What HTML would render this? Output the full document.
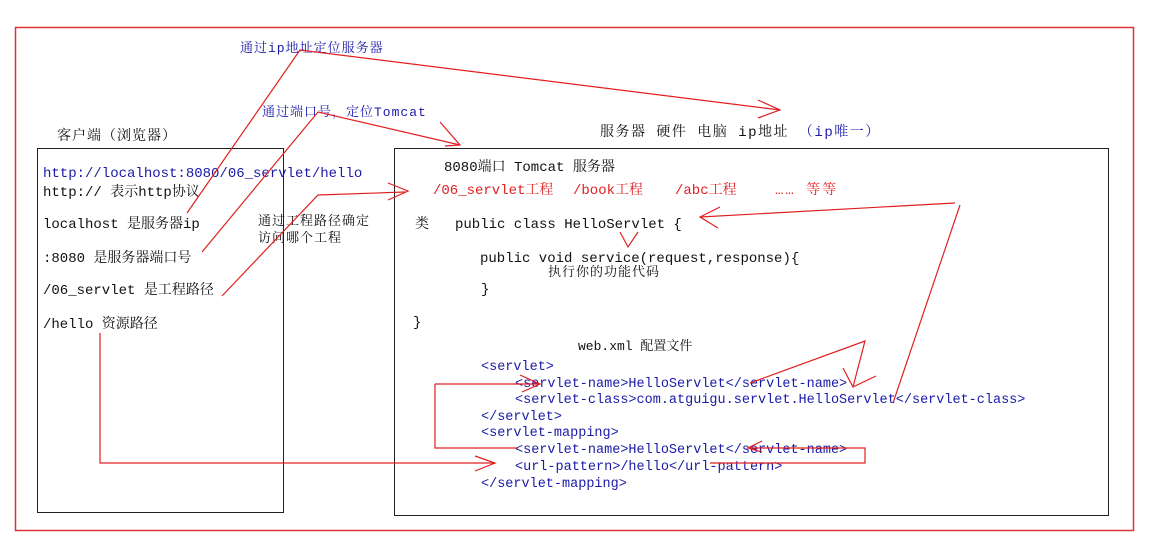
<!DOCTYPE html>
<html><head><meta charset="utf-8"><style>
body{margin:0;background:#fff}
svg text{font-family:"Liberation Mono","Noto Serif CJK SC",monospace;font-size:14px}
.b{fill:#1a1aa8}.r{fill:#e02020}.k{fill:#111}
.x{font-size:13.5px}
</style></head><body>
<svg width="1154" height="553" viewBox="0 0 1154 553" xmlns="http://www.w3.org/2000/svg">
<rect width="1154" height="553" fill="#fff"/>
<rect x="15.5" y="27.5" width="1118" height="503" fill="none" stroke="#d33" stroke-width="1.5"/>
<rect x="37.5" y="148.5" width="246" height="364" fill="none" stroke="#222"/>
<rect x="394.5" y="148.5" width="714" height="367" fill="none" stroke="#222"/>
<g>
<text x="240" y="52" class="b" style="font-size:13px;letter-spacing:1px">通过ip地址定位服务器</text>
<text x="262" y="116" class="b" style="font-size:13px;letter-spacing:1px">通过端口号，定位Tomcat</text>
<text x="57" y="140" class="k" style="letter-spacing:1px">客户端（浏览器）</text>
<text x="600" y="136" class="k" style="font-size:14px;letter-spacing:1.5px">服务器 硬件 电脑  ip地址 <tspan class="b">（ip唯一）</tspan></text>
<text x="43" y="177" class="b">http://localhost:8080/06_servlet/hello</text>
<text x="43" y="196" class="k">http:// 表示http协议</text>
<text x="43" y="228" class="k">localhost 是服务器ip</text>
<text x="43" y="262" class="k">:8080 是服务器端口号</text>
<text x="43" y="294" class="k">/06_servlet 是工程路径</text>
<text x="43" y="328" class="k">/hello  资源路径</text>
<text x="258" y="225" class="k" style="font-size:13px;letter-spacing:1px">通过工程路径确定</text>
<text x="258" y="242" class="k" style="font-size:13px;letter-spacing:1px">访问哪个工程</text>
<text x="444" y="171" class="k">8080端口 Tomcat 服务器</text>
<text x="433" y="194" class="r">/06_servlet工程</text>
<text x="573" y="194" class="r">/book工程</text>
<text x="675" y="194" class="r">/abc工程</text>
<text x="775" y="194" class="r" style="letter-spacing:2px">…… 等等</text>
<text x="415" y="228" class="k">类</text>
<text x="455" y="228" class="k">public class HelloServlet {</text>
<text x="480" y="262" class="k">public void service(request,response){</text>
<text x="548" y="276" class="k" style="font-size:13px;letter-spacing:1px">执行你的功能代码</text>
<text x="481" y="293" class="k">}</text>
<text x="413" y="326" class="k">}</text>
<text x="578" y="350" class="k" style="font-size:13px">web.xml 配置文件</text>
<text x="481" y="370" class="b x">&lt;servlet&gt;</text>
<text x="515" y="387" class="b x">&lt;servlet-name&gt;HelloServlet&lt;/servlet-name&gt;</text>
<text x="515" y="403" class="b x">&lt;servlet-class&gt;com.atguigu.servlet.HelloServlet&lt;/servlet-class&gt;</text>
<text x="481" y="420" class="b x">&lt;/servlet&gt;</text>
<text x="481" y="436" class="b x">&lt;servlet-mapping&gt;</text>
<text x="515" y="453" class="b x">&lt;servlet-name&gt;HelloServlet&lt;/servlet-name&gt;</text>
<text x="515" y="470" class="b x">&lt;url-pattern&gt;/hello&lt;/url-pattern&gt;</text>
<text x="481" y="487" class="b x">&lt;/servlet-mapping&gt;</text>
</g>
<g fill="none" stroke="#e02020" stroke-width="1.2">
<polyline points="187,213 300,50 780,110"/>
<polyline points="758,100 780,110 758,118"/>
<polyline points="202,252 318,112 460,145"/>
<polyline points="440,122 460,145 445,146"/>
<polyline points="222,296 318,195 405,192"/>
<polyline points="388,183 408,191 388,200"/>
<polyline points="100,333 100,463 495,463"/>
<polyline points="475,456 495,463 475,471"/>
<polyline points="955,203 700,217"/>
<polyline points="720,207 700,217 718,228"/>
<polyline points="960,205 893,403"/>
<polyline points="620,232 628,247 638,232"/>
<polyline points="750,383 865,341 853,387"/>
<polyline points="843,368 853,387 876,376"/>
<polyline points="435,384 540,384"/>
<polyline points="520,375 540,384 522,392"/>
<polyline points="435,384 435,448 518,448"/>
<polyline points="748,448 865,448 865,463 710,463"/>
<polyline points="762,441 748,448 762,452"/>
</g>
</svg>
</body></html>
